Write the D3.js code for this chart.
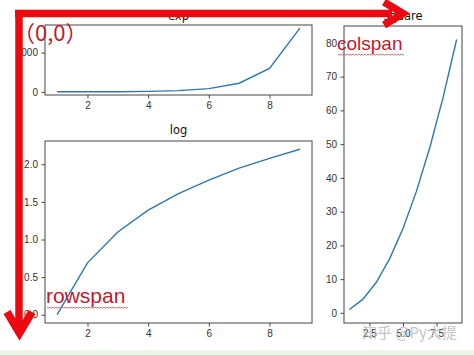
<!DOCTYPE html>
<html>
<head>
<meta charset="utf-8">
<script src="https://cdn.jsdelivr.net/npm/d3@7"></script>
<style>
body{margin:0;background:#fff;}
svg{display:block;font-family:'DejaVu Sans',sans-serif;}
.tick text{font-size:10px;fill:#333;}
.tick line{stroke:#444;}
.title{font-size:11.5px;fill:#111;text-anchor:middle;}
.note{font-family:'Liberation Sans',Arial,sans-serif;fill:#bc1c2e;}
</style>
</head>
<body>
<svg width="474" height="355"></svg>
<script>
const xs = [1, 2, 3, 4, 5, 6, 7, 8, 9];
const expValues = [2.7, 7.4, 20.1, 54.6, 148.4, 403.4, 1096.6, 2981.0, 8103.1];
const logValues = [0, 0.69, 1.10, 1.39, 1.61, 1.79, 1.95, 2.08, 2.20];
const squareValues = [1, 4, 9, 16, 25, 36, 49, 64, 81];
const leftXTicks = [2, 4, 6, 8];
const squareXTicks = [2.5, 5.0, 7.5];
const expYTicks = [0, 5000];
const logYTicks = [0, 0.5, 1.0, 1.5, 2.0];
const squareYTicks = [0, 10, 20, 30, 40, 50, 60, 70, 80];

function whenLoaded(){
    const svg = d3.select('svg');

    // pale strip at the bottom of the screenshot
    svg.append('rect').attr('x',0).attr('y',350).attr('width',474).attr('height',5).attr('fill','#edf5e8');

    const padded = ([a,b]) => [a-(b-a)*0.05, b+(b-a)*0.05];

    const panel = (box, yValues, xTicks, yTicks, xFmt, yFmt, title, titleY) => {
        const xScale = d3.scaleLinear()
        .domain(padded(d3.extent(xs)))
        .range([box.x0, box.x1]);

        const yScale = d3.scaleLinear()
        .domain(padded(d3.extent(yValues)))
        .range([box.y1, box.y0]);

        const g = svg.append('g');

        const xAxisG = g.append('g')
        .attr('transform',`translate(0,${box.y1})`)
        .call(d3.axisBottom(xScale).tickValues(xTicks).tickFormat(xFmt).tickSize(3.5).tickPadding(3.5));
        xAxisG.select('.domain').remove();

        const yAxisG = g.append('g')
        .attr('transform',`translate(${box.x0},0)`)
        .call(d3.axisLeft(yScale).tickValues(yTicks).tickFormat(yFmt).tickSize(3.5).tickPadding(3.5));
        yAxisG.select('.domain').remove();

        g.append('path')
        .datum(xs)
        .attr('fill','none')
        .attr('stroke','#2f77ad')
        .attr('stroke-width',1.4)
        .attr('d', d3.line().x(d => xScale(d)).y((d,i) => yScale(yValues[i])));

        g.append('rect')
        .attr('x',box.x0).attr('y',box.y0)
        .attr('width',box.x1-box.x0).attr('height',box.y1-box.y0)
        .attr('fill','none').attr('stroke','#444').attr('stroke-width',1);

        g.append('text')
        .attr('class','title')
        .attr('x',(box.x0+box.x1)/2)
        .attr('y',titleY)
        .text(title);
    };

    panel({x0:45,x1:312,y0:25,y1:95}, expValues, leftXTicks, expYTicks, d3.format('d'), d3.format('d'), 'exp', 20);
    panel({x0:45,x1:312,y0:141,y1:323}, logValues, leftXTicks, logYTicks, d3.format('d'), d3.format('.1f'), 'log', 134);
    panel({x0:344,x1:462,y0:26,y1:323}, squareValues, squareXTicks, squareYTicks, d3.format('.1f'), d3.format('d'), 'square', 20);

    // red annotation arrows
    const red = '#ec0a10';
    svg.append('path')
    .attr('d','M15,13.5 H392 M19,13.5 V334')
    .attr('fill','none').attr('stroke',red).attr('stroke-width',7.5);

    svg.append('polyline')
    .attr('points','384,2 403,13.5 384,25')
    .attr('fill','none').attr('stroke',red).attr('stroke-width',7.5)
    .attr('stroke-linejoin','miter');

    svg.append('polyline')
    .attr('points','7,312 19.5,333 32,312')
    .attr('fill','none').attr('stroke',red).attr('stroke-width',8)
    .attr('stroke-linejoin','miter');

    svg.append('text').attr('class','note')
    .attr('x',13).attr('y',41)
    .style('font-family',"'Noto Sans CJK SC',sans-serif")
    .style('font-size','22px')
    .text('（0,0）');

    svg.append('text').attr('class','note')
    .attr('x',337).attr('y',50)
    .style('font-size','19px')
    .text('colspan');

    svg.append('text').attr('class','note')
    .attr('x',46).attr('y',303)
    .style('font-size','21px')
    .text('rowspan');

    // squiggly spell-check underlines
    const squiggle = (x0,x1,y) => {
        let d = `M${x0},${y}`;
        for(let x = x0; x < x1; x += 3){
            d += ` L${x+1.5},${y+1.2} L${x+3},${y}`;
        }
        return d;
    };
    svg.append('path').attr('d',squiggle(338,402,54))
    .attr('fill','none').attr('stroke','#c0504d').attr('stroke-width',0.8);
    svg.append('path').attr('d',squiggle(47,126,307))
    .attr('fill','none').attr('stroke','#c0504d').attr('stroke-width',0.8);

    // watermark
    svg.append('text')
    .attr('x',362).attr('y',338)
    .style('font-family',"'Noto Sans CJK SC',sans-serif")
    .style('font-size','15px')
    .attr('fill','#bbbbbb')
    .attr('opacity',0.85)
    .text('知乎 @Py大提');
}

window.onload = whenLoaded;
</script>
</body>
</html>
